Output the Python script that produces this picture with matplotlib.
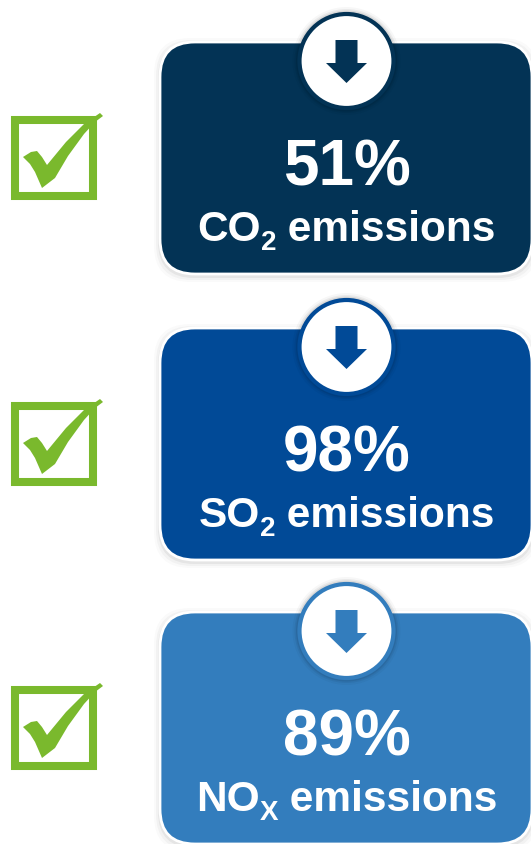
import matplotlib
matplotlib.use('Agg')
import matplotlib.pyplot as plt
from matplotlib.patches import FancyBboxPatch, Circle, Polygon, Rectangle

plt.rcParams['font.family'] = ['Liberation Sans', 'DejaVu Sans']

percents = ['51%', '98%', '89%']
label_main = ['CO', 'SO', 'NO']
label_sub = ['2', '2', 'X']
label_end = ' emissions'
colors = ['#033355', '#014A97', '#337DBD']
box_tops = [42, 328, 612]
check_green = '#7AB92D'

W, H = 531, 844
fig = plt.figure(figsize=(W / 100, H / 100), dpi=100)
ax = fig.add_axes([0, 0, 1, 1])
ax.set_xlim(0, W)
ax.set_ylim(H, 0)
ax.axis('off')
renderer = fig.canvas.get_renderer()


def draw_check(top):
    # top is the upper edge of the square
    ax.add_patch(Rectangle((15, top + 4), 77.5, 76, fc='none', ec=check_green, lw=5.8, joinstyle='miter'))
    pts = [(100, -3), (103, 0), (95, 6), (84, 18), (68, 40), (55, 62), (42, 72), (35, 56),
           (30, 48), (23, 41), (31, 36), (37, 35), (42, 41), (47, 49), (66, 26), (84, 8)]
    ax.add_patch(Polygon([(x, y + top) for x, y in pts], fc=check_green, ec='none', zorder=3))


def draw_label(cx, base, main, sub):
    # three pieces so the subscript can sit lower than mathtext puts it
    kw = dict(color='white', fontweight='bold', va='baseline', ha='left', zorder=5)
    parts = [(main, 30.5, 0), (sub, 20, 9), (label_end, 30.5, 0)]
    texts = [ax.text(0, base + dy, s, fontsize=size, **kw) for s, size, dy in parts]
    widths = [t.get_window_extent(renderer).width for t in texts]
    # trailing/leading blanks are counted by matplotlib, so keep the end piece as it is
    x = cx - sum(widths) / 2
    for t, w in zip(texts, widths):
        t.set_x(x)
        x += w


def draw_box(top, color, pct, main, sub):
    # soft shadow first
    for grow, alpha in [(6, 0.02), (4, 0.03), (2, 0.05)]:
        ax.add_patch(FancyBboxPatch((160 - grow, top + 2 - grow), 372 + 2 * grow, 232 + 2 * grow,
                                    boxstyle='round,pad=0,rounding_size=36', fc='black', ec='none', alpha=alpha))
    ax.add_patch(FancyBboxPatch((160, top), 372, 232, boxstyle='round,pad=0,rounding_size=35',
                                fc=color, ec='white', lw=2, zorder=2))
    cx, cy = 346.5, top + 19
    for grow, alpha in [(5, 0.03), (3, 0.05), (1.5, 0.07)]:
        ax.add_patch(Circle((cx, cy), 49 + grow, fc='black', ec='none', alpha=alpha, zorder=3))
    ax.add_patch(Circle((cx, cy), 47, fc='white', ec=color, lw=3, zorder=4))
    arrow = [(-11, -21), (11, -21), (11, 2), (20.5, 2), (0, 22), (-20.5, 2), (-11, 2)]
    ax.add_patch(Polygon([(cx + x, cy + y) for x, y in arrow], fc=color, ec='none', zorder=5))
    ax.text(cx, top + 144, pct, color='white', fontsize=46, fontweight='bold', ha='center', va='baseline', zorder=5)
    draw_label(cx, top + 199, main, sub)


for top, color, pct, main, sub in zip(box_tops, colors, percents, label_main, label_sub):
    draw_box(top, color, pct, main, sub)
    draw_check(top + 74)

fig.savefig('out.png', dpi=100, facecolor='white')
